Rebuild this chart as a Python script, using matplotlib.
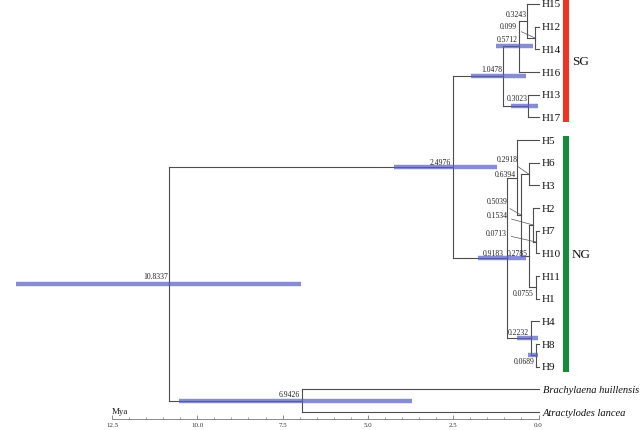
import matplotlib.pyplot as plt
from matplotlib.ticker import MultipleLocator

# tip order, top to bottom
tips = ["H15", "H12", "H14", "H16", "H13", "H17",
        "H5", "H6", "H3", "H2", "H7", "H10", "H11", "H1",
        "H4", "H8", "H9",
        "Brachylaena huillensis", "Atractylodes lancea"]
outgroups = ["Brachylaena huillensis", "Atractylodes lancea"]

# internal nodes: id, age (Mya), two children
node_ids = ["root", "out", "ingroup", "SG", "sgA", "sgA1", "sgA2", "sgB",
            "NG", "ngA", "ngA1", "ngA2", "ngA3", "ngA4", "ngA5", "ngA6", "ngB", "ngB1"]
node_ages = [10.8337, 6.9426, 2.4976, 1.0478, 0.5712, 0.3243, 0.099, 0.3023,
             0.9183, 0.6394, 0.5039, 0.2918, 0.2785, 0.1534, 0.0713, 0.0755, 0.2232, 0.0689]
node_left = ["ingroup", "Brachylaena huillensis", "SG", "sgA", "sgA1", "H15", "H12", "H13",
             "ngA", "H5", "ngA2", "H6", "ngA4", "H2", "H7", "H11", "H4", "H8"]
node_right = ["out", "Atractylodes lancea", "NG", "sgB", "H16", "sgA2", "H14", "H17",
              "ngB", "ngA1", "ngA3", "H3", "ngA6", "ngA5", "H10", "H1", "ngB1", "H9"]

# 95% HPD intervals
hpd_ids = ["root", "out", "ingroup", "SG", "sgA", "sgB", "NG", "ngB", "ngB1"]
hpd_low = [6.96, 3.70, 1.22, 0.37, 0.16, 0.01, 0.37, 0.01, 0.01]
hpd_high = [15.31, 10.53, 4.23, 1.98, 1.25, 0.80, 1.77, 0.63, 0.31]

clade_names = ["SG", "NG"]
clade_first = ["H15", "H5"]
clade_last = ["H17", "H9"]
clade_colors = ["#ee3424", "#17893a"]

axis_ticks = [12.5, 10.0, 7.5, 5.0, 2.5, 0.0]

# label placement (offset pixels from node; leader=True draws a pointer line)
label_offsets = {
    "root": (-1, 8, False), "out": (-2, 7, False), "ingroup": (-2, 5, False),
    "SG": (-1, 7, False), "sgA": (-1, 7, False), "sgA1": (-1, 7, False),
    "sgA2": (-18, 12, True), "sgB": (0, 8, False), "NG": (-3, 5, False),
    "ngA": (-1, 4, False), "ngA1": (-14, 14, True), "ngA2": (-11, 15, True),
    "ngA3": (-1, 3, False), "ngA4": (-26, 10, True), "ngA5": (-29, 9, True),
    "ngA6": (-2, -6, False), "ngB": (-2, 6, False), "ngB1": (-2, -6, False),
}

SERIF = "Liberation Serif"
LINE = "#4d4d4d"

fig = plt.figure(figsize=(6.43, 4.31), dpi=100)
ax = fig.add_axes([0, 0, 1, 1])
ax.set_xlim(15.78, -3.06)
ax.set_ylim(18.79, -0.22)
ax.axis("off")

pos = {name: (0.0, i) for i, name in enumerate(tips)}
age = dict(zip(node_ids, node_ages))
children = {n: (l, r) for n, l, r in zip(node_ids, node_left, node_right)}


def place(n):
    if n in pos:
        return pos[n]
    l, r = children[n]
    yl = place(l)[1]
    yr = place(r)[1]
    pos[n] = (age[n], (yl + yr) / 2)
    return pos[n]


place("root")

# branches
for n in node_ids:
    x, y = pos[n]
    for c in children[n]:
        cx, cy = pos[c]
        ax.plot([x, x], [y, cy], color=LINE, lw=0.8, zorder=2)
        ax.plot([x, cx], [cy, cy], color=LINE, lw=0.8, zorder=2)

# HPD bars
for n, lo, hi in zip(hpd_ids, hpd_low, hpd_high):
    y = pos[n][1]
    ax.plot([hi, lo], [y, y], color="#5a60c4", lw=3.2, alpha=0.72,
            solid_capstyle="butt", zorder=3)

# node age labels
for n in node_ids:
    dx, dy, leader = label_offsets[n]
    txt = f"{age[n]:g}"
    arrow = None
    if leader:
        arrow = dict(arrowstyle="-", color="#555555", lw=0.5, shrinkA=1, shrinkB=0)
    ax.annotate(txt, xy=pos[n], xytext=(dx, dy), textcoords="offset pixels",
                ha="right", va="center", fontsize=5.5, family=SERIF, color="#222222",
                arrowprops=arrow, zorder=4)

# tip labels
for name in tips:
    if name in outgroups:
        ax.annotate(name, xy=pos[name], xytext=(4, 0), textcoords="offset pixels",
                    ha="left", va="center", fontsize=7.6, family=SERIF,
                    style="italic", color="#111111")
    else:
        ax.annotate(name, xy=pos[name], xytext=(3, 0), textcoords="offset pixels",
                    ha="left", va="center", fontsize=8, family=SERIF, color="#111111")

# clade bars
for name, first, last, col in zip(clade_names, clade_first, clade_last, clade_colors):
    y0 = pos[first][1] - 0.18
    y1 = pos[last][1] + 0.22
    ax.plot([-0.806, -0.806], [y0, y1], color=col, lw=4.4, solid_capstyle="butt")
    ax.annotate(name, xy=(-0.806, (y0 + y1) / 2), xytext=(6, 0), textcoords="offset pixels",
                ha="left", va="center", fontsize=9.5, family=SERIF, color="#111111")

# time scale
sax = fig.add_axes([112 / 643, 11 / 431, 426.5 / 643, 0.0001])
sax.set_xlim(12.5, 0)
sax.set_yticks([])
for s in ["left", "right", "top"]:
    sax.spines[s].set_visible(False)
sax.spines["bottom"].set_color("#777777")
sax.spines["bottom"].set_linewidth(0.6)
sax.set_xticks(axis_ticks)
sax.set_xticklabels([f"{t:.1f}" for t in axis_ticks], family=SERIF, fontsize=5)
sax.xaxis.set_minor_locator(MultipleLocator(0.5))
sax.tick_params(axis="x", which="major", direction="in", length=3, width=0.6,
                color="#777777", pad=2.5, labelcolor="#333333")
sax.tick_params(axis="x", which="minor", direction="in", length=1.5, width=0.5,
                color="#777777")
sax.patch.set_visible(False)
sax.annotate("Mya", xy=(12.5, 0), xycoords=("data", "axes fraction"), xytext=(0, 4),
             textcoords="offset pixels", ha="left", va="bottom", fontsize=6.5,
             family=SERIF, color="#222222")

fig.savefig("out.png", dpi=100)
